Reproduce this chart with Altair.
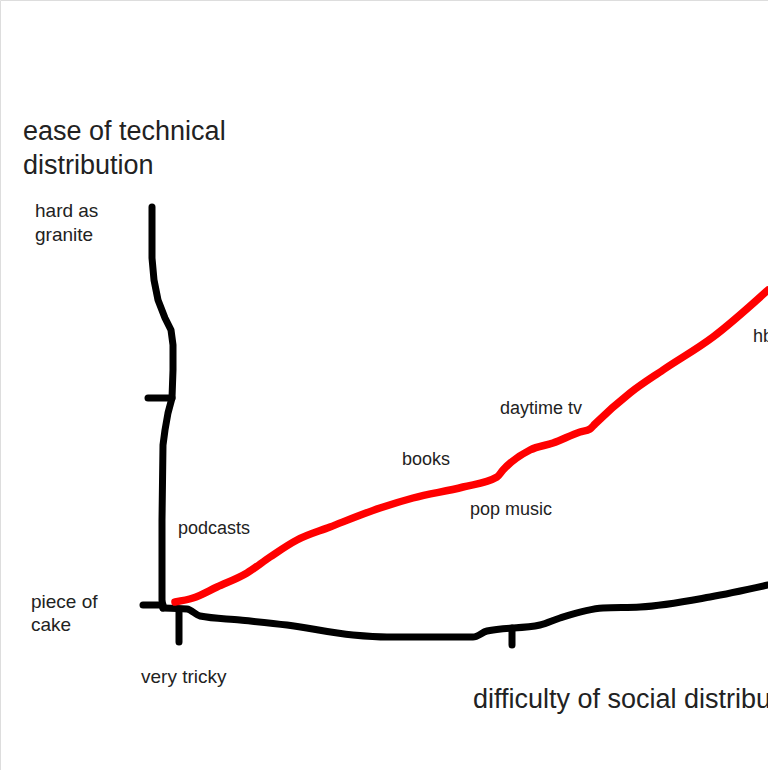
import altair as alt
import pandas as pd

# ---- hand-drawn strokes (chart coordinates, y grows downward) ----
v_axis_x = [152, 152, 154, 158, 165, 171, 173, 173, 172, 168, 165, 163, 162, 162, 163]
v_axis_y = [207, 258, 280, 300, 318, 330, 345, 370, 398, 413, 430, 445, 520, 600, 608]

h_axis_x = [163, 187, 200, 240, 287, 353, 387, 473, 487, 540, 560, 603, 640, 710, 768]
h_axis_y = [608, 609, 616, 620, 625, 635, 637, 637, 631, 625, 618, 608, 607, 597, 585]

tick_x1 = [148, 143, 179, 512]
tick_y1 = [398, 605, 610, 628]
tick_x2 = [172, 163, 179, 512]
tick_y2 = [398, 605, 642, 645]

red_x = [175, 193, 217, 247, 270, 297, 330, 380, 413, 463, 497, 503, 530, 553, 580, 590,
         595, 630, 663, 713, 768]
red_y = [602, 598, 587, 573, 557, 540, 527, 508, 498, 487, 477, 470, 450, 443, 432, 429,
         424, 393, 370, 337, 290]

# ---- text ----
title_text = ["ease of technical", "distribution", "difficulty of social distribution"]
title_x = [23, 23, 473]
title_y = [140, 174, 708]

side_text = ["hard as", "granite", "piece of", "cake", "very tricky"]
side_x = [35, 35, 31, 31, 141]
side_y = [217, 241, 608, 631, 683]

item_text = ["podcasts", "books", "pop music", "daytime tv", "hbo"]
item_x = [178, 402, 470, 500, 753]
item_y = [534, 465, 515, 414, 342]

# ---- build tables ----
rows = []
for i, (x, y) in enumerate(zip(v_axis_x, v_axis_y)):
    rows.append({"stroke": "v", "i": i, "x": x, "y": y})
for k in range(len(tick_x1)):
    rows.append({"stroke": f"t{k}", "i": 0, "x": tick_x1[k], "y": tick_y1[k]})
    rows.append({"stroke": f"t{k}", "i": 1, "x": tick_x2[k], "y": tick_y2[k]})
black_df = pd.DataFrame(rows)
h_df = pd.DataFrame({"i": range(len(h_axis_x)), "x": h_axis_x, "y": h_axis_y})

red_df = pd.DataFrame({"i": range(len(red_x)), "x": red_x, "y": red_y})
title_df = pd.DataFrame({"t": title_text, "x": title_x, "y": title_y})
side_df = pd.DataFrame({"t": side_text, "x": side_x, "y": side_y})
item_df = pd.DataFrame({"t": item_text, "x": item_x, "y": item_y})

W, H = 768, 770
xs = alt.Scale(domain=[0, W], nice=False, zero=False)
ys = alt.Scale(domain=[0, H], nice=False, zero=False, reverse=True)
X = alt.X("x:Q", scale=xs, axis=None)
Y = alt.Y("y:Q", scale=ys, axis=None)

black = alt.Chart(black_df).mark_line(
    color="black", strokeWidth=7, strokeCap="round", strokeJoin="round", clip=True
).encode(x=X, y=Y, detail="stroke:N", order="i:Q")

h_axis = alt.Chart(h_df).mark_line(
    color="black", strokeWidth=7, strokeCap="round", strokeJoin="round",
    interpolate="monotone", clip=True
).encode(x=X, y=Y, order="i:Q")

red = alt.Chart(red_df).mark_line(
    color="#ff0000", strokeWidth=7.5, strokeCap="round", strokeJoin="round",
    interpolate="monotone", clip=True
).encode(x=X, y=Y, order="i:Q")

def texts(df, size):
    return alt.Chart(df).mark_text(
        align="left", baseline="alphabetic", font="Liberation Sans",
        fontSize=size, color="#222222", clip=True
    ).encode(x=X, y=Y, text="t:N")

chart = alt.layer(
    black, h_axis, red, texts(title_df, 27), texts(side_df, 19), texts(item_df, 18)
).properties(
    width=W, height=H, padding=0, autosize=alt.AutoSizeParams(type="none")
).configure_view(stroke=None).configure(background="white")

chart.save("out.html", embed_options={"renderer": "svg", "actions": False})
